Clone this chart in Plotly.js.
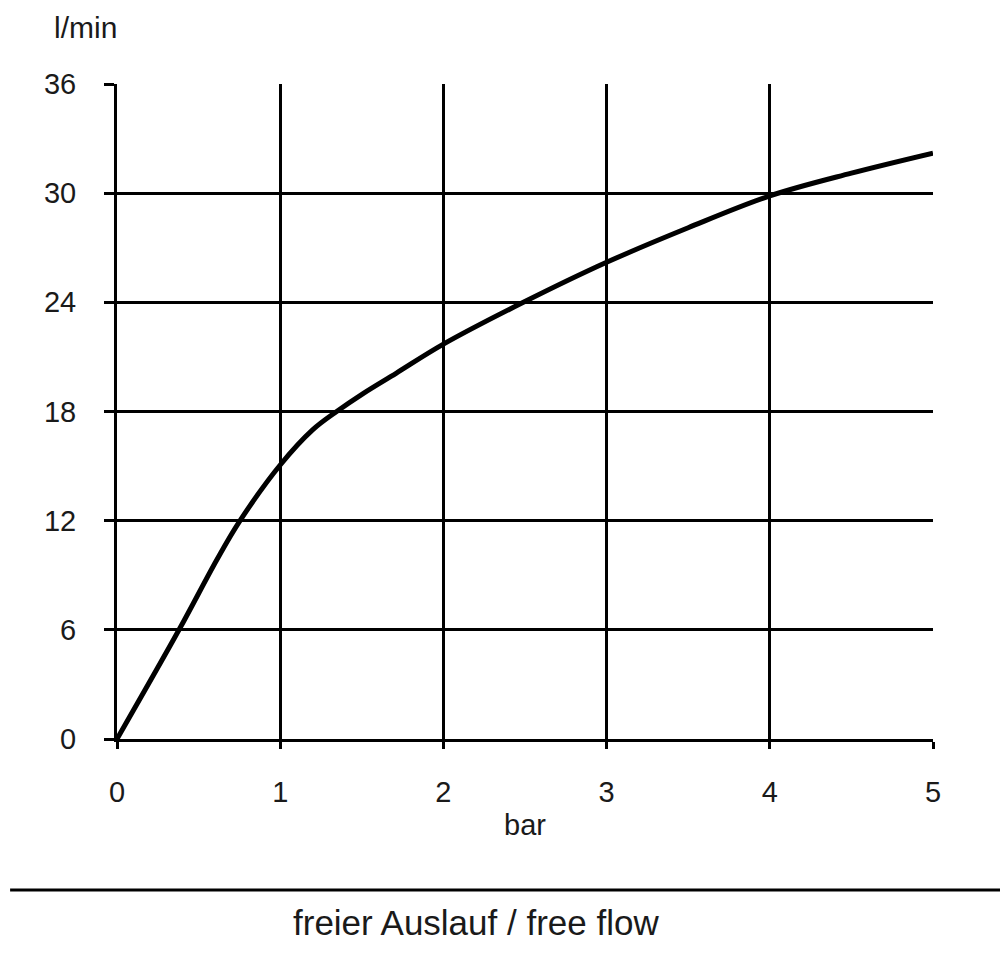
<!DOCTYPE html>
<html>
<head>
<meta charset="utf-8">
<script src="https://cdn.plot.ly/plotly-3.0.1.min.js"></script>
<style>html,body{margin:0;padding:0;background:#fff;}#chart{width:1000px;height:962px;}</style>
</head>
<body>
<div id="chart"></div>
<script>
// Pressure (bar) vs flow rate (l/min), free flow
const pressureBar = [0, 0.38, 0.611, 0.75, 1.0, 1.2, 1.346, 1.51, 1.71, 2.0, 2.49, 3.0, 3.5, 4.0, 4.5, 5.0];
const flowLpm =     [0, 6.0, 9.84, 11.95, 15.06, 17.0, 18.0, 19.0, 20.1, 21.7, 24.0, 26.2, 28.1, 29.85, 31.1, 32.2];
const xTicks = [0, 1, 2, 3, 4, 5];
const xGrid = [1, 2, 3, 4];
const yTicks = [0, 6, 12, 18, 24, 30, 36];
const yGrid = [6, 12, 18, 24, 30];

const FONT = 'Liberation Sans, Arial, sans-serif';
const TXT = '#1a1a1a';

const trace = {
  x: pressureBar, y: flowLpm, type: 'scatter', mode: 'lines',
  line: {color: '#000', width: 5, shape: 'spline', smoothing: 1},
  hoverinfo: 'skip', showlegend: false
};

const layout = {
  width: 1000, height: 962,
  margin: {l: 117, r: 67, t: 84, b: 223},
  paper_bgcolor: '#fff', plot_bgcolor: '#fff',
  font: {family: FONT, color: TXT, size: 30},
  showlegend: false,
  xaxis: {
    range: [0, 5], tickvals: xTicks, ticktext: xTicks.map(String),
    ticks: 'outside', ticklen: 7, tickwidth: 3, tickcolor: '#000',
    showgrid: false, zeroline: false, showline: true, linecolor: '#000', linewidth: 3,
    tickfont: {size: 29, color: TXT, family: FONT}, ticklabelstandoff: 18,
    title: {text: 'bar', font: {size: 29, color: TXT, family: FONT}, standoff: 8},
    fixedrange: true
  },
  yaxis: {
    range: [0, 36], tickvals: yTicks, ticktext: yTicks.map(String),
    ticks: 'outside', ticklen: 10, tickwidth: 3, tickcolor: '#000',
    showgrid: false, zeroline: false, showline: true, linecolor: '#000', linewidth: 3,
    tickfont: {size: 29, color: TXT, family: FONT}, ticklabelstandoff: 22,
    fixedrange: true
  },
  xaxis2: {
    overlaying: 'x', range: [0, 5], tickvals: xGrid, showticklabels: false,
    showgrid: true, gridcolor: '#000', gridwidth: 3, zeroline: false, ticks: '', fixedrange: true
  },
  yaxis2: {
    overlaying: 'y', range: [0, 36], tickvals: yGrid, showticklabels: false,
    showgrid: true, gridcolor: '#000', gridwidth: 3, zeroline: false, ticks: '', fixedrange: true
  },
  shapes: [
    {type: 'line', xref: 'paper', yref: 'paper', x0: -0.131, x1: 1.085, y0: -0.2305, y1: -0.2305,
     line: {color: '#000', width: 3}}
  ],
  annotations: [
    {text: 'l/min', xref: 'paper', yref: 'paper', x: -0.0392, y: 1.0855, xanchor: 'center', yanchor: 'middle',
     showarrow: false, font: {size: 30, color: TXT, family: FONT}},
    {text: 'freier Auslauf / free flow', xref: 'paper', yref: 'paper', x: 0.44, y: -0.2794,
     xanchor: 'center', yanchor: 'middle', showarrow: false, font: {size: 35, color: TXT, family: FONT}}
  ]
};

const gridTrace = {x: [0], y: [0], xaxis: 'x2', yaxis: 'y2', type: 'scatter', mode: 'markers',
  marker: {opacity: 0}, hoverinfo: 'skip', showlegend: false};

Plotly.newPlot('chart', [gridTrace, trace], layout, {staticPlot: true, displayModeBar: false});
</script>
</body>
</html>
